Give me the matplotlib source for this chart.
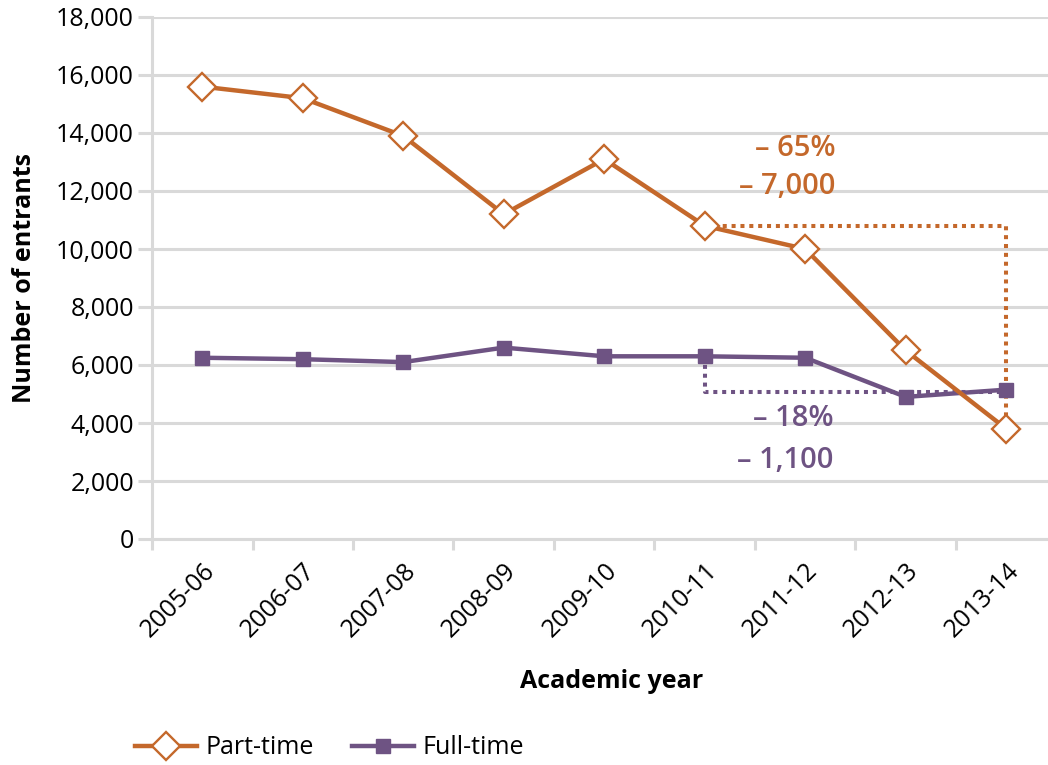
import matplotlib
matplotlib.use('Agg')
import matplotlib.pyplot as plt
from matplotlib.ticker import FuncFormatter, FixedLocator
from matplotlib.lines import Line2D

plt.rcParams['font.family'] = ['Open Sans', 'DejaVu Sans']

years = ['2005-06', '2006-07', '2007-08', '2008-09', '2009-10',
         '2010-11', '2011-12', '2012-13', '2013-14']
part_time = [15600, 15200, 13900, 11200, 13100, 10800, 10000, 6500, 3800]
full_time = [6250, 6200, 6100, 6600, 6300, 6300, 6250, 4900, 5150]

ORANGE = '#C4682B'
PURPLE = '#6E5383'
GRID = '#D9D9D9'


def main():
    fig = plt.figure(figsize=(10.48, 7.65), dpi=100)
    ax = fig.add_axes([152 / 1048, 226 / 765, 904.5 / 1048, 522 / 765])

    x = list(range(len(years)))
    ax.plot(x, part_time, color=ORANGE, lw=3.2, marker='D', markersize=14,
            markerfacecolor='white', markeredgecolor=ORANGE, markeredgewidth=1.7,
            zorder=4, clip_on=False)
    ax.plot(x, full_time, color=PURPLE, lw=3.2, marker='s', markersize=9.5,
            zorder=3, clip_on=False)

    # dotted brackets showing the change since 2010-11
    dot = dict(lw=2.9, linestyle=(0, (1, 1.2)), dash_capstyle='butt', zorder=2)
    ax.plot([5, 8, 8], [part_time[5], part_time[5], part_time[-1] + 450],
            color=ORANGE, **dot)
    ax.plot([5, 5, 8], [full_time[5], full_time[-1] - 80, full_time[-1] - 80],
            color=PURPLE, **dot)

    note = dict(fontsize=21, fontweight='semibold', ha='right', va='center')
    ax.text(6.3, 13480, '– 65%', color=ORANGE, **note)
    ax.text(6.3, 12140, '– 7,000', color=ORANGE, **note)
    ax.text(6.28, 4170, '– 18%', color=PURPLE, **note)
    ax.text(6.28, 2720, '– 1,100', color=PURPLE, **note)

    ax.set_xlim(-0.5, len(years) - 0.5)
    ax.set_ylim(0, 18000)
    ax.set_yticks(range(0, 18001, 2000))
    ax.yaxis.set_major_formatter(FuncFormatter(lambda v, p: f'{int(v):,}'))
    ax.grid(axis='y', color=GRID, lw=2.2)
    ax.set_axisbelow(True)

    # category labels centered, tick marks between categories
    ax.set_xticks(x)
    ax.set_xticklabels(years, rotation=45, ha='right', rotation_mode='anchor')
    ax.xaxis.set_minor_locator(FixedLocator([i + 0.5 for i in range(-1, len(years))]))
    ax.tick_params(axis='x', which='major', length=0, labelsize=18, pad=14)
    ax.tick_params(axis='x', which='minor', length=8, width=2.2, color=GRID)
    ax.tick_params(axis='y', length=10, width=2.2, color=GRID, labelsize=18, pad=3)

    for s in ['top', 'right']:
        ax.spines[s].set_visible(False)
    for s in ['left', 'bottom']:
        ax.spines[s].set_color(GRID)
        ax.spines[s].set_linewidth(2.2)

    ax.set_ylabel('Number of entrants', fontsize=18, fontweight='bold', labelpad=14)
    fig.text(612 / 1048, 1 - 682 / 765, 'Academic year', fontsize=18,
             fontweight='bold', ha='center', va='center')

    handles = [
        Line2D([], [], color=ORANGE, lw=3.2, marker='D', markersize=14,
               markerfacecolor='white', markeredgecolor=ORANGE, markeredgewidth=1.7),
        Line2D([], [], color=PURPLE, lw=3.2, marker='s', markersize=9.5),
    ]
    fig.legend(handles, ['Part-time', 'Full-time'], loc='center left',
               bbox_to_anchor=(122 / 1048, 1 - 748 / 765), ncol=2, frameon=False,
               fontsize=18, handlelength=2.5, columnspacing=1.5, handletextpad=0.35,
               borderpad=0)

    fig.savefig('out.png', dpi=100)


if __name__ == "__main__":
    main()
